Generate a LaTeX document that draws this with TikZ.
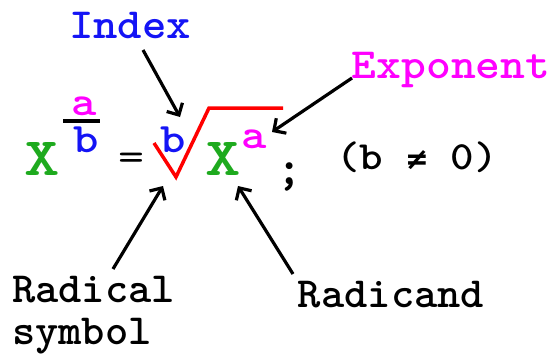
\documentclass[tikz,border=0pt]{standalone}
\usepackage{fontspec}
\newfontfamily\symfnt{DejaVu Sans Mono}
\usetikzlibrary{arrows.meta}
\definecolor{cgreen}{RGB}{30,170,30}
\definecolor{cblue}{RGB}{20,20,245}
\definecolor{cmag}{RGB}{255,0,255}
\definecolor{cred}{RGB}{255,0,0}
\newcommand{\wtxt}[2][1.1]{\scalebox{#1}[1]{#2}}
\tikzset{
  lbl/.style={inner sep=0pt, anchor=base, font=\ttfamily\bfseries\fontsize{43}{46}\selectfont},
  bigx/.style={inner sep=0pt, anchor=base, text=cgreen, font=\ttfamily\bfseries\fontsize{54}{58}\selectfont},
  smallt/.style={inner sep=0pt, anchor=base, font=\ttfamily\bfseries\fontsize{42}{46}\selectfont},
  ptr/.style={line width=3.2pt, -{Straight Barb[length=9pt,width=18pt,line width=3.2pt]}},
}
\begin{document}
\begin{tikzpicture}[x=1pt,y=-1pt]
\useasboundingbox (0,0) rectangle (553,353);
% labels
\node[lbl, text=cblue] (index) at (130,39) {\wtxt[1.08]{Index}};
\node[lbl, text=cmag] (expo) at (451,78) {\wtxt{Exponent}};
\node[lbl, anchor=base west] (radsym) at (12,302) {\wtxt[1.03]{Radical}};
\node[lbl, anchor=base west] (radsym2) at (12,344) {\wtxt[1.03]{symbol}};
\node[lbl] (radicand) at (391,307) {\wtxt[1.03]{Radicand}};
% formula
\node[bigx] (x1) at (42.5,175) {\wtxt[1.25]{X}};
\node[smallt, text=cmag] (fa) at (84,115) {\wtxt[1.15]{a}};
\node[smallt, text=cblue] (fb) at (86,152) {\wtxt[1.15]{b}};
\coordinate (barl) at (63,121);
\coordinate (barr) at (100,121);
\draw[line width=3.5pt] (barl) -- (barr);
\node[inner sep=0pt, font=\ttfamily\fontsize{42}{46}\selectfont] (eq) at (131,162) {\wtxt[1.2]{=}};
\node[smallt, text=cblue] (ib) at (173,152) {\wtxt[1.15]{b}};
\coordinate (r1) at (154,143);
\coordinate (r2) at (176,177);
\coordinate (r3) at (209,108);
\coordinate (r4) at (283,108);
\draw[cred, line width=3.5pt, line join=miter] (r1) -- (r2) -- (r3) -- (r4);
\node[bigx] (x2) at (223.5,175) {\wtxt[1.25]{X}};
\node[smallt, text=cmag] (sa) at (254,148) {\wtxt[1.15]{a}};
\node[inner sep=0pt, anchor=base, font=\ttfamily\bfseries\fontsize{50}{54}\selectfont] (semi) at (290,184) {;};
\node[inner sep=0pt, anchor=base, font=\ttfamily\bfseries\fontsize{40}{44}\selectfont] (cond) at (417,169) {\wtxt[1.12]{(b {\symfnt\fontsize{30}{34}\selectfont ≠} 0)}};
% arrows
\coordinate (t1) at (180,117);
\coordinate (t2) at (272,132);
\coordinate (t3) at (163,186);
\coordinate (t4) at (238,186);
\coordinate (s1) at (143,50);
\coordinate (s2) at (352,78);
\coordinate (s3) at (113,269);
\coordinate (s4) at (293,274);
\draw[ptr] (s1) -- (t1);
\draw[ptr] (s2) -- (t2);
\draw[ptr] (s3) -- (t3);
\draw[ptr] (s4) -- (t4);
\end{tikzpicture}
\end{document}
